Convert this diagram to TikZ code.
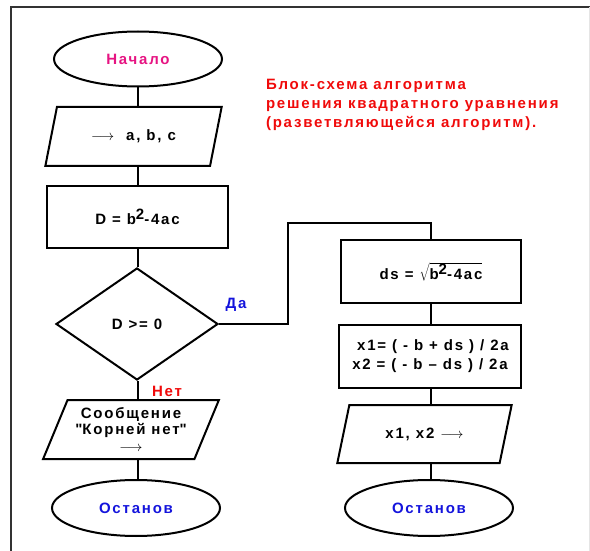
\documentclass[tikz,border=0pt]{standalone}
\usepackage{fontspec}
\setmainfont{Liberation Sans}[LetterSpace=12]
\usepackage{tikz}
\usetikzlibrary{shapes.geometric,calc}
\usepackage{xcolor}
\definecolor{startpink}{RGB}{230,20,130}
\definecolor{stopblue}{RGB}{20,20,220}
\definecolor{titlered}{RGB}{240,10,10}

\begin{document}
\begin{tikzpicture}[x=1pt,y=-1pt,line width=2pt,
  font=\fontsize{15}{19}\selectfont\bfseries,
  term/.style={draw,ellipse,minimum width=168pt,minimum height=55pt,inner sep=0pt},
  io/.style={draw,trapezium,trapezium left angle=64,trapezium right angle=116,
    trapezium stretches=true,minimum width=177pt,minimum height=59pt,inner sep=0pt},
  proc/.style={draw,rectangle,minimum width=181pt,minimum height=62pt,inner sep=0pt},
  cond/.style={draw,diamond,minimum width=162pt,minimum height=112pt,inner sep=0pt}]
  \useasboundingbox (0,0) rectangle (590,551);
  % frame
  \draw[line width=1.4pt,black!80] (590,7) -- (11,7) -- (11,551);
  \draw[line width=0.8pt,black!10] (589,7) -- (589,551);

  % title
  \node[titlered,anchor=north west,align=left,inner sep=0pt] (title) at (265,78)
    {Блок-схема алгоритма\\решения квадратного уравнения\\(разветвляющейся алгоритм).};

  % left branch
  \node[term,text=startpink] (start) at (138,59) {Начало};
  \node[io] (inp) at (133.5,136.5) {$\longrightarrow$\ \ a, b, c};
  \node[proc] (calcD) at (137.5,217) {D = b\raisebox{5pt}{2}-4ac};
  \node[cond] (check) at (137,324) {D >= 0};
  \node[io,align=center,minimum width=176pt] (msg) at (131,429.5)
    {Сообщение\\[-3pt]\textquotedbl Корней нет\textquotedbl\\[-2pt]$\longrightarrow$};
  \node[term,minimum height=56pt,text=stopblue] (stopL) at (136,508) {Останов};

  % right branch
  \node[proc,minimum width=180pt,minimum height=63pt] (root) at (431,271.5)
    {ds = $\sqrt{\mbox{\bfseries b\raisebox{5pt}{2}-4ac}}$};
  \node[proc,minimum width=182pt,minimum height=63pt,align=center] (xs) at (430,356.5)
    {\ x1= ( - b + ds ) / 2a\\x2 = ( - b -- ds ) / 2a};
  \node[io,minimum width=175pt,minimum height=58pt] (outp) at (424.5,434) {x1, x2 $\longrightarrow$};
  \node[term,minimum height=56pt,text=stopblue] (stopR) at (429,508) {Останов};

  % connectors
  \draw (start.south) -- (start.south |- inp.north);
  \draw (start.south |- inp.south) -- (start.south |- calcD.north);
  \draw (start.south |- calcD.south) -- (start.south |- check.north);
  \draw (start.south |- check.south) -- (start.south |- msg.north);
  \draw (start.south |- msg.south) -- (start.south |- stopL.north);
  \coordinate (yes) at (288,223);
  \draw (check.east) -| (yes) -| (root.north);
  \draw (root.south) -- (root.south |- xs.north);
  \draw (root.south |- xs.south) -- (root.south |- outp.north);
  \draw (root.south |- outp.south) -- (root.south |- stopR.north);

  % branch labels
  \node[stopblue] (yeslbl) at (236,305) {Да};
  \node[titlered] (nolbl) at (167,391) {Нет};
\end{tikzpicture}
\end{document}
